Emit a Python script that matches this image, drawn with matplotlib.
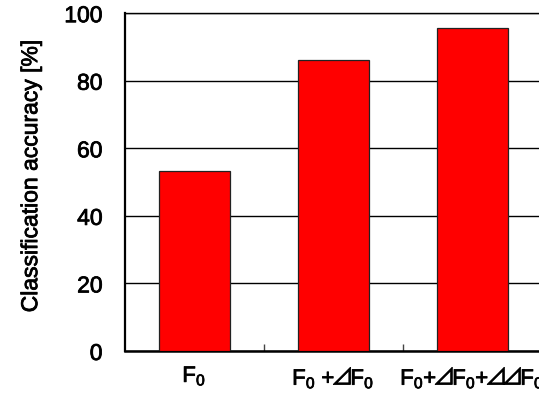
import matplotlib
matplotlib.use("Agg")
import matplotlib.pyplot as plt
import matplotlib.patheffects as pe
from matplotlib.ticker import FixedLocator

# Classification accuracy per feature set (⊿ pulled tight with negative spaces)
features = [
    r"F$_0$",
    r"F$_0$ +$\!\mathsf{⊿}\!$F$_0$",
    r"F$_0$+$\!\mathsf{⊿}\!$F$_0$+$\!\mathsf{⊿}\!\!\mathsf{⊿}\!$F$_0$",
]
accuracy = [53.4, 86.0, 95.7]
yticks = [0, 20, 40, 60, 80, 100]

plt.rcParams["font.family"] = ["Liberation Sans", "DejaVu Sans"]
plt.rcParams["mathtext.fontset"] = "custom"
plt.rcParams["mathtext.rm"] = "Liberation Sans"
plt.rcParams["mathtext.it"] = "Liberation Sans"
plt.rcParams["mathtext.sf"] = "Noto Sans CJK JP"

# slightly heavier strokes for all text
bold = [pe.withStroke(linewidth=0.55, foreground="black")]

fig = plt.figure(figsize=(5.39, 3.95), dpi=100)
ax = fig.add_axes([0.2314, 0.1114, 0.7736, 0.8552])

x = range(len(features))
ax.bar(x, accuracy, width=0.51, color="#ff0000", edgecolor="#222222", linewidth=0.9, zorder=3)

ax.set_xlim(-0.5, len(features) - 0.5)
ax.set_ylim(0, 100)
ax.set_yticks(yticks)
ax.yaxis.grid(True, color="black", linewidth=1.0, zorder=1)
ax.set_axisbelow(True)

ax.set_xticks(list(x))
ax.set_xticklabels(features, fontsize=16)
ax.xaxis.set_minor_locator(FixedLocator([0.5, 1.5]))
ax.tick_params(axis="x", which="major", length=0, pad=10)
ax.tick_params(axis="x", which="minor", direction="in", length=5, width=1, color="#444444")
ax.tick_params(axis="y", length=0, pad=16, labelsize=16.5)

ax.set_ylabel("Classification accuracy [%]", fontsize=16.5)
ax.yaxis.set_label_coords(-0.198, 0.518)

for lbl in ax.get_xticklabels() + ax.get_yticklabels() + [ax.yaxis.label]:
    lbl.set_path_effects(bold)

for side in ["left", "bottom", "top", "right"]:
    ax.spines[side].set_color("black")
ax.spines["left"].set_linewidth(1.6)
ax.spines["bottom"].set_linewidth(1.8)
ax.spines["top"].set_linewidth(1.0)

fig.savefig("out.png", dpi=100)
